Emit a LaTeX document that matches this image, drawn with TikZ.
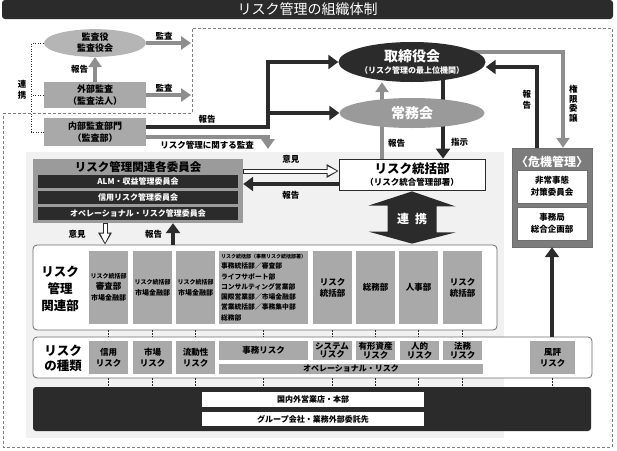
\documentclass[tikz,border=0pt]{standalone}
\usepackage{fontspec}
\setmainfont{Noto Sans CJK JP}
\usetikzlibrary{arrows.meta,shapes.geometric,backgrounds}
\definecolor{ink}{HTML}{2B2B2B}
\definecolor{boxgray}{HTML}{A9A9A9}
\definecolor{pale}{HTML}{F1F1F1}
\definecolor{arrowgray}{HTML}{8E8E8E}
\definecolor{crisisgray}{HTML}{7C7C7C}
\definecolor{ovalgray}{HTML}{B5B5B5}
\definecolor{jomugray}{HTML}{9A9A9A}
\definecolor{framegray}{HTML}{6E6E6E}
\begin{document}
\begin{tikzpicture}[x=1pt,y=-1pt,
  lbl/.style={inner sep=1pt, font=\fontsize{8.5}{11}\selectfont\bfseries},
  oval/.style={ellipse, inner sep=0pt, align=center},
  graybox/.style={fill=boxgray, inner sep=0pt, align=center, font=\fontsize{9}{12}\selectfont\bfseries},
  col/.style={graybox, minimum width=39pt, minimum height=73pt, font=\fontsize{8.5}{11}\selectfont\bfseries},
  risk/.style={graybox, minimum width=39pt, minimum height=33pt, font=\fontsize{8.5}{11}\selectfont\bfseries},
  bar/.style={fill=ink, text=white, minimum width=200pt, minimum height=13pt, inner sep=0pt, font=\fontsize{8}{9}\selectfont\bfseries},
  whitebox/.style={fill=white, draw=framegray, inner sep=0pt, align=center, font=\fontsize{8.5}{12}\selectfont\bfseries},
  panel/.style={draw=framegray, line width=0.8pt, fill=white, rounded corners=4pt},
  garrow/.style={draw=arrowgray, line width=4pt, -{Triangle[length=10pt,width=13pt]}},
  karrow/.style={draw=ink, line width=4pt, -{Triangle[length=10pt,width=14pt]}},
  hollow/.style={draw=ink, line width=5pt, -{Triangle[length=12pt,width=13pt]},
    postaction={draw=white, line width=3pt, -{Triangle[length=9.5pt,width=8.5pt]}, shorten >=1.6pt, shorten <=0.8pt}},
  dots/.style={draw=ink, line width=1.2pt, dash pattern=on 1.2pt off 1.8pt},
  link/.style={draw=ink, line width=0.8pt, dash pattern=on 1pt off 1.5pt},
  frame/.style={draw=gray, line width=0.8pt, dash pattern=on 3pt off 2pt}]
\useasboundingbox (0,0) rectangle (617,450);
\begin{scope}[on background layer]
  \fill[pale] (26,152) rectangle (504,438);
  \draw[frame] (3,113) -- (192,113) -- (192,28) -- (612,28) -- (612,447) -- (3,447) -- cycle;
\end{scope}

\node[fill=ink, rounded corners=3pt, minimum width=611pt, minimum height=19pt, inner sep=0pt, text=white,
  font=\fontsize{14}{15}\selectfont] (title) at (307.5,9.5) {リスク管理の組織体制};

\node[oval, fill=ovalgray, minimum width=102pt, minimum height=27pt, font=\fontsize{9}{11}\selectfont\bfseries] (kansayaku) at (95,43) {監査役\\監査役会};
\node[graybox, minimum width=102pt, minimum height=26pt] (gaibu) at (95,95) {外部監査\\（監査法人）};
\node[graybox, minimum width=102pt, minimum height=28pt] (naibu) at (95,132) {内部監査部門\\（監査部）};
\node[lbl, align=center] (renkeilbl) at (22,90) {連\\携};
\coordinate (edgeA) at (191,43);
\coordinate (edgeB) at (191,95);
\coordinate (split) at (268,113);
\coordinate (auditdown) at (268,149);

\node[oval, fill=ink, text=white, minimum width=143pt, minimum height=40pt, font=\bfseries] (torishimari) at (412,62)
  {{\fontsize{14}{16}\selectfont 取締役会}\\{\fontsize{8}{10}\selectfont （リスク管理の最上位機関）}};
\node[oval, fill=jomugray, text=white, minimum width=145pt, minimum height=30pt, font=\fontsize{14}{15}\selectfont\bfseries] (jomu) at (412,113) {常務会};
\node[whitebox, draw=ink, line width=0.8pt, minimum width=146pt, minimum height=31pt] (tokatsu) at (412,174.5)
  {{\fontsize{12.5}{14}\selectfont リスク統括部}\\{\fontsize{8.5}{10}\selectfont （リスク統合管理部署）}};

\node[fill=crisisgray, draw=framegray, minimum width=80pt, minimum height=99pt] (kiki) at (552,197.5) {};
\node[text=white, font=\fontsize{12}{14}\selectfont\bfseries] (kikititle) at (552,162) {〈危機管理〉};
\node[whitebox, minimum width=70pt, minimum height=33pt] (hijo) at (552,186.5) {非常事態\\対策委員会};
\node[whitebox, minimum width=70pt, minimum height=33pt] (jimukyoku) at (552,223.5) {事務局\\総合企画部};

\node[graybox, fill=boxgray!92!black, minimum width=210pt, minimum height=64pt] (iinkai) at (138,191) {};
\node[font=\fontsize{11.5}{13}\selectfont\bfseries] (iinkaititle) at (138,167.5) {リスク管理関連各委員会};
\node[bar] (alm) at (138,181.5) {ALM・収益管理委員会};
\node[bar] (shinyoiin) at (138,197) {信用リスク管理委員会};
\node[bar] (opeiin) at (138,213) {オペレーショナル・リスク管理委員会};

\node[panel, minimum width=464pt, minimum height=85pt] (kanren) at (265,287.5) {};
\node[font=\fontsize{12.5}{17}\selectfont\bfseries, align=center] (kanrenlbl) at (60,289) {リスク\\管理\\関連部};
\node[col] (k1) at (108.5,287.5) {{\fontsize{6}{8}\selectfont リスク統括部}\\{\fontsize{8.5}{10}\selectfont 審査部}\\{\fontsize{7}{9}\selectfont 市場金融部}};
\foreach \n/\x in {k2/152.5, k3/195.5}
  \node[col] (\n) at (\x,287.5) {{\fontsize{6}{8}\selectfont リスク統括部}\\{\fontsize{7}{9}\selectfont 市場金融部}};
\node[col, minimum width=89pt, align=left, font=\fontsize{6.8}{10.3}\selectfont\bfseries] (k4) at (263.5,287.5)
  {{\fontsize{5}{6}\selectfont リスク統括部（事務リスク統括部署）}\\事務統括部／審査部\\ライフサポート部\\コンサルティング営業部\\国際営業部／市場金融部\\営業統括部／事務集中部\\総務部};
\foreach \n/\x/\t in {k5/332.5/{リスク\\統括部}, k6/375.5/総務部, k7/418.5/人事部, k8/462.5/{リスク\\統括部}}
  \node[col] (\n) at (\x,287.5) {\t};

\node[panel, minimum width=559pt, minimum height=41pt] (types) at (312.5,357.5) {};
\node[font=\fontsize{12.5}{15}\selectfont\bfseries, align=center] (typeslbl) at (63,358) {リスク\\の種類};
\foreach \n/\x/\t in {shinyo/108.5/信用, shijo/152.5/市場, ryudo/195.5/流動性}
  \node[risk] (\n) at (\x,357.5) {\t\\リスク};
\node[risk, minimum width=89pt, minimum height=19pt] (jimurisk) at (263.5,350.5) {事務リスク};
\foreach \n/\x/\t in {system/332/システム, yukei/375.5/有形資産, jinteki/419.5/人的, homu/462.5/法務}
  \node[risk, minimum height=19pt, font=\fontsize{8.5}{8.5}\selectfont\bfseries] (\n) at (\x,350.5) {\t\\リスク};
\node[risk, minimum width=264pt, minimum height=10pt, text height=6pt, text depth=1pt, font=\fontsize{8}{8}\selectfont\bfseries] (operisk) at (351,369) {オペレーショナル・リスク};
\node[risk, minimum width=45pt] (fuhyo) at (552.5,357.5) {風評\\リスク};

\node[fill=ink, rounded corners=3pt, minimum width=558pt, minimum height=44pt] (base) at (312,409) {};
\node[whitebox, draw=none, minimum width=222pt, minimum height=15pt, font=\fontsize{8}{9}\selectfont\bfseries] (kokunai) at (313,399.5) {国内外営業店・本部};
\node[whitebox, draw=none, minimum width=222pt, minimum height=14pt, font=\fontsize{8}{9}\selectfont\bfseries] (group) at (313,419) {グループ会社・業務外部委託先};

\draw[garrow] (kansayaku.east) -- node[lbl, above, pos=.4]{監査} (edgeA);
\draw[garrow] (gaibu.east) -- node[lbl, above, pos=.4]{監査} (edgeB);
\draw[garrow] (gaibu.north) -- node[lbl, left=4pt]{報告} (kansayaku.south);
\draw[link] (kansayaku.west) -- ++(-12,0) |- (naibu.west);
\draw[link] (gaibu.west) -- ++(-12,0);

\draw[karrow] ([yshift=5pt]naibu.east) -| node[lbl, pos=.25, above=1pt]{報告} (split) |- (torishimari.west);
\draw[karrow] (split) -- (jomu.west);
\draw[garrow] ([yshift=-5pt]naibu.east) -| node[lbl, pos=.25, below=1pt]{リスク管理に関する監査} (auditdown);

\begin{scope}[on background layer]
  \draw[garrow] ([xshift=-30pt]tokatsu.north) -- node[lbl, pos=.2, right=3pt]{報告} ([xshift=-30pt]torishimari.south);
  \draw[karrow] ([xshift=31pt]torishimari.center) -- node[lbl, pos=.83, right=5pt]{指示} ([xshift=31pt]tokatsu.north);
  \draw[garrow] ([yshift=10pt]torishimari.center) -| node[lbl, pos=.77, right=3pt, align=center, font=\fontsize{8.5}{9.5}\selectfont\bfseries]{権\\限\\委\\譲} ([xshift=11pt]kiki.north);
\end{scope}
\draw[karrow] ([xshift=-15pt]kiki.north) |- node[lbl, pos=.3, left=3pt, align=center]{報\\告} ([yshift=-5pt]torishimari.east);

\draw[hollow] ([yshift=20pt]iinkai.east) -- node[lbl, above=4pt]{意見} ([yshift=20pt]iinkai.east -| tokatsu.west);
\draw[karrow] ([yshift=-9.5pt]tokatsu.west) -- node[lbl, below=4pt]{報告} ([yshift=-9.5pt]tokatsu.west -| iinkai.east);
\draw[hollow] ([xshift=-33pt]iinkai.south) -- node[lbl, left=16pt]{意見} ([xshift=-33pt]iinkai.south |- kanren.north);
\draw[karrow] ([xshift=35pt]iinkai.south |- kanren.north) -- node[lbl, left=8pt]{報告} ([xshift=35pt]iinkai.south);

\fill[ink] ([yshift=-1pt]tokatsu.south) -- ++(43.5,15) -- ++(-19,0) -- ++(0,26) -- ++(19,0)
  -- ([yshift=1pt]tokatsu.south |- kanren.north) -- ++(-43.5,-12) -- ++(19,0) -- ++(0,-26) -- ++(-19,0) -- cycle;
\node[text=white, font=\fontsize{12}{13}\selectfont\bfseries] (renkei) at (412,219) {連\enspace 携};

\draw[karrow] (kiki.south |- types.north) -- (kiki.south);
\foreach \c in {k1,k2,k3,k4,k5,k6,k7,k8} {
  \draw[dots] (\c |- kanren.south) -- (\c |- types.north);
  \draw[dots] (\c |- types.south) -- (\c |- base.north);
}
\draw[dots] (fuhyo |- types.south) -- (fuhyo |- base.north);
\end{tikzpicture}
\end{document}
